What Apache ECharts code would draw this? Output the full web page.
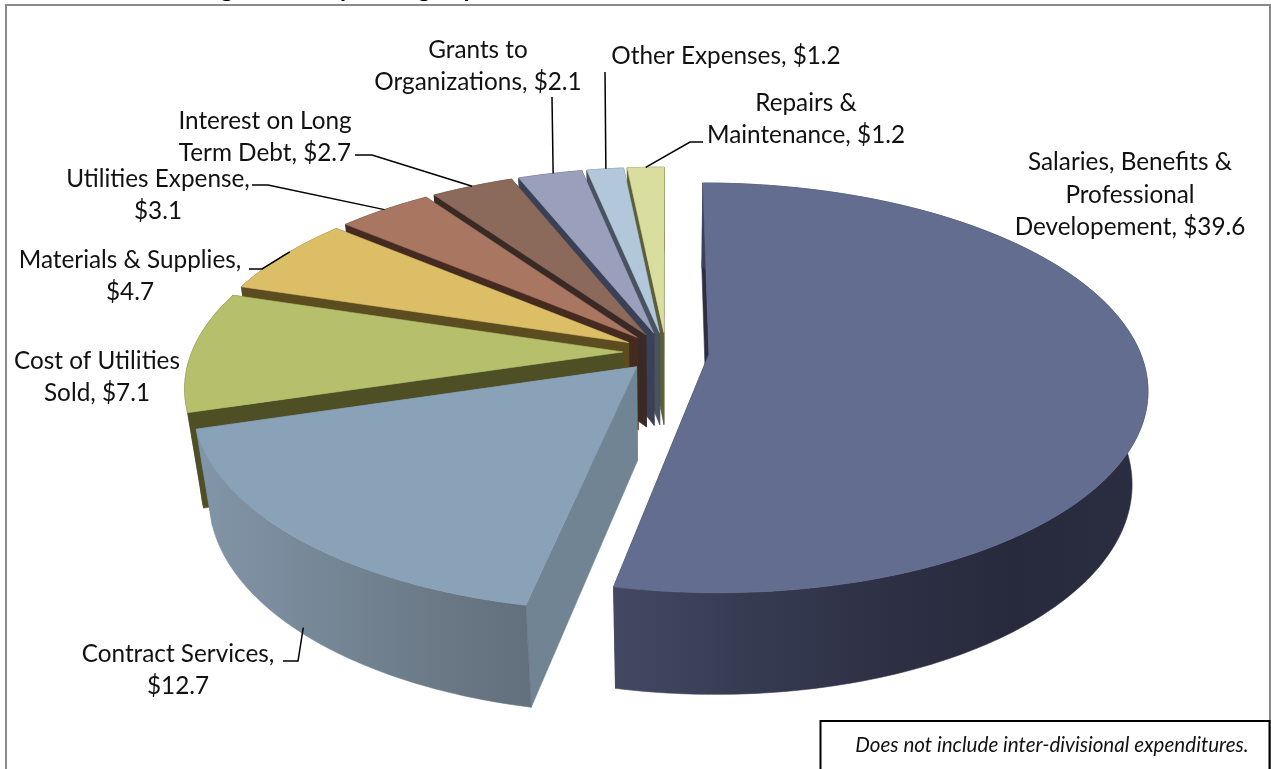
<!DOCTYPE html>
<html>
<head>
<meta charset="utf-8">
<style>html,body{margin:0;padding:0;background:#fff}#chart{width:1271px;height:769px}</style>
<script src="https://cdn.jsdelivr.net/npm/echarts@6/dist/echarts.min.js"></script>
</head>
<body>
<div id="chart"></div>
<script>
// Expense categories in slice order, clockwise from twelve o'clock ($ millions).
const categories = [
  'Salaries, Benefits &\nProfessional\nDevelopement',
  'Contract Services',
  'Cost of Utilities\nSold',
  'Materials & Supplies',
  'Utilities Expense',
  'Interest on Long\nTerm Debt',
  'Grants to\nOrganizations',
  'Other Expenses',
  'Repairs &\nMaintenance'
];
const expenses = [39.6, 12.7, 7.1, 4.7, 3.1, 2.7, 2.1, 1.2, 1.2];
const valueBreaks = [' ', '\n', ' ', '\n', '\n', ' ', ' ', ' ', ' '];

// Slice colours: top face, radial wall, outer wall from left to right.
const topColors = ['#626d90', '#8aa2b8', '#b6bf6b', '#dcbe66', '#a97661', '#8b6a5c', '#9a9fbb', '#b3c7db', '#d9dd9e'];
const wallColors = ['#2c2f42', '#708494', '#4f4f26', '#5c4d20', '#452a20', '#3a2a25', '#3a4055', '#47535f', '#5c5f36'];
const rimColors = [
  ['#444963', '#373b52', '#2e3145', '#272a3c', '#2b2e41'],
  ['#8296a9', '#7a8c9d', '#728290', '#6a7885', '#62707e'],
  ['#4f4f26', '#4f4f26'], ['#5c4d20', '#5c4d20'], ['#452a20', '#452a20'],
  ['#3a2a25', '#3a2a25'], ['#3a4055', '#3a4055'], ['#47535f', '#47535f'], ['#5c5f36', '#5c5f36']
];

// Label placement: centre of the text block, the leader's elbow points,
// and where along the slice's arc the leader lands.
const labelCentres = [[1130, 195], [178, 670], [97, 377], [130, 276], [158, 195], [265, 137], [478, 66], [726, 56], [806, 119]];
const leaderElbows = [
  null,
  [[283, 661], [298, 661]],
  null,
  [[249, 269], [262, 269]],
  [[252, 185], [268, 185]],
  [[355, 155], [372, 155]],
  [[552, 97]],
  [[605, 72]],
  [[703, 142], [690, 142]]
];
const leaderAlong = [0.5, 0.52, 0.5, 0.56, 0.5, 0.5, 0.55, 0.52, 0.5];
const leaderOnBase = [false, true, false, false, false, false, false, false, false];

// Perspective camera for the tilted pie.
const view = { cx: 666, cy: 352, sx: 431, sy: 198.6, tilt: 0.165, depthY: 96, depthW: 0.033, explode: 0.1 };

const total = expenses.reduce((a, b) => a + b, 0);
const spans = [];
expenses.reduce((start, v) => {
  const end = start + v / total * Math.PI * 2;
  spans.push([start, end]);
  return end;
}, 0);

function project(X, Y, d) {
  const w = 1 - view.tilt * Y + view.depthW * d;
  return [view.cx + view.sx * X / w, view.cy + (view.sy * Y + view.depthY * d) / w];
}

function slicePoint(i, angle, r, d) {
  const mid = (spans[i][0] + spans[i][1]) / 2;
  const X = view.explode * Math.sin(mid) + r * Math.sin(angle);
  const Y = -view.explode * Math.cos(mid) - r * Math.cos(angle);
  return project(X, Y, d);
}

function arc(i, d) {
  const [a, b] = spans[i];
  const n = Math.max(4, Math.ceil((b - a) / 0.015));
  const pts = [];
  for (let k = 0; k <= n; k++) pts.push(slicePoint(i, a + (b - a) * k / n, 1, d));
  return pts;
}

function poly(points, fill, z2, stroke) {
  return {
    type: 'polygon',
    z2,
    shape: { points },
    style: { fill, stroke: stroke || fill, lineWidth: 0.6 }
  };
}

function rimFill(i) {
  const stops = rimColors[i];
  return new echarts.graphic.LinearGradient(0, 0, 1, 0,
    stops.map((color, k) => ({ offset: k / (stops.length - 1), color })));
}

function renderSlice(params, api) {
  const i = params.dataIndex;
  const layer = i === 0 ? 0 : (expenses.length - i) * 10;
  const [a, b] = spans[i];
  const apexTop = slicePoint(i, a, 0, 0);
  const apexBase = slicePoint(i, a, 0, 1);
  const topArc = arc(i, 0);
  const baseArc = arc(i, 1);
  const children = [
    poly([apexTop, topArc[topArc.length - 1], baseArc[baseArc.length - 1], apexBase], wallColors[i], layer),
    poly([apexTop, topArc[0], baseArc[0], apexBase], wallColors[i], layer + 1),
    poly(topArc.concat(baseArc.slice().reverse()), rimFill(i), layer + 2),
    poly([apexTop].concat(topArc), topColors[i], layer + 3)
  ];

  const c = labelCentres[i];
  children.push({
    type: 'text',
    z2: 200,
    style: {
      x: c[0], y: c[1],
      text: categories[i] + ',' + valueBreaks[i] + '$' + api.value(0).toFixed(1),
      font: '24.3px Lato',
      lineHeight: 32.5,
      fill: '#111',
      align: 'center',
      verticalAlign: 'middle'
    }
  });

  if (leaderElbows[i]) {
    const along = a + (b - a) * leaderAlong[i];
    const end = slicePoint(i, along, 1, leaderOnBase[i] ? 0.93 : 0);
    children.push({
      type: 'polyline',
      z2: 201,
      shape: { points: leaderElbows[i].concat([end]) },
      style: { stroke: '#000', lineWidth: 1.5, fill: 'none' }
    });
  }
  return { type: 'group', children };
}

const chart = echarts.init(document.getElementById('chart'), null, { renderer: 'canvas' });
chart.setOption({
  animation: false,
  backgroundColor: '#fff',
  graphic: [
    { type: 'text', z: 1, style: { x: 539, y: -11, text: 'Budget Total Operating Expenses', font: 'bold 24.5px Lato', fill: '#000', align: 'right', verticalAlign: 'middle' } },
    { type: 'polyline', z: 2, shape: { points: [[6, 769], [6, 5], [1270, 5], [1270, 769]] }, style: { stroke: '#8a8a8a', lineWidth: 2, fill: 'none' } },
    { type: 'rect', z: 3, shape: { x: 820.5, y: 721, width: 449, height: 60 }, style: { stroke: '#000', lineWidth: 2, fill: '#fff' } },
    { type: 'text', z: 4, style: { x: 1052, y: 745, text: 'Does not include inter-divisional expenditures.', font: 'italic 20.6px Lato', fill: '#111', align: 'center', verticalAlign: 'middle' } }
  ],
  series: [{
    type: 'custom',
    coordinateSystem: 'none',
    silent: true,
    renderItem: renderSlice,
    data: expenses.map((value, i) => ({ name: categories[i], value: [value] }))
  }]
});
</script>
</body>
</html>
